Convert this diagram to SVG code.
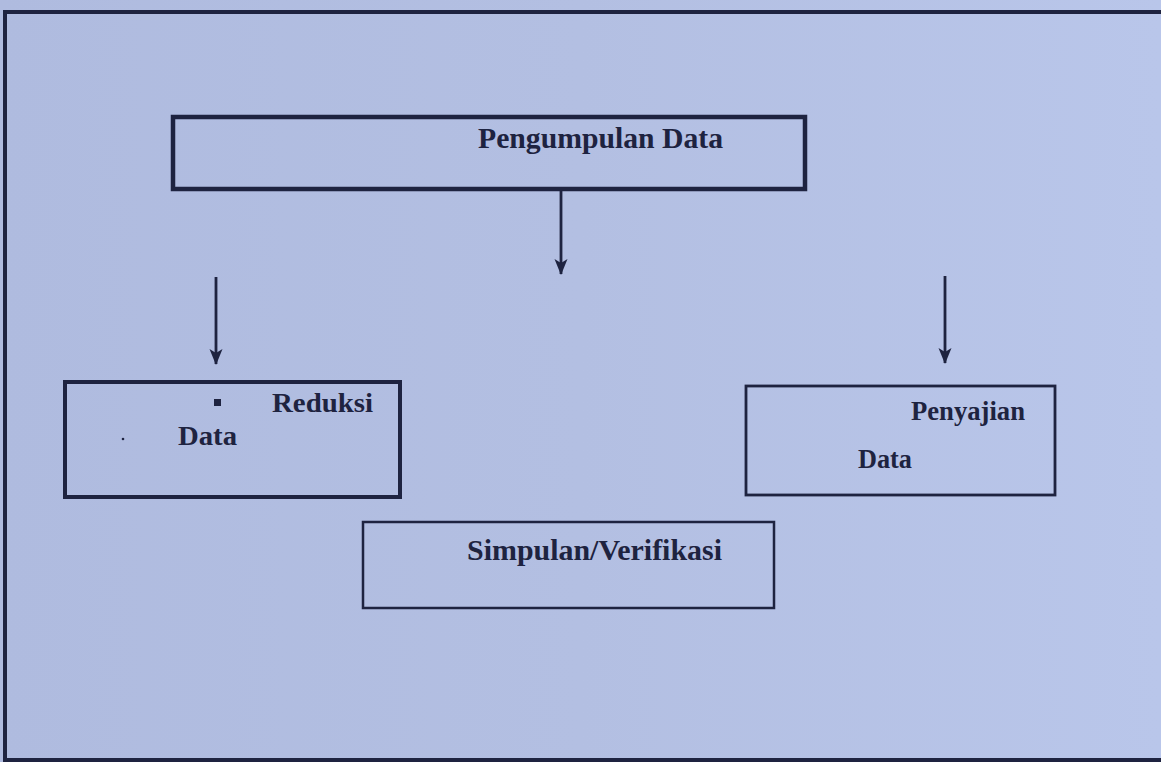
<svg xmlns="http://www.w3.org/2000/svg" width="1161" height="762" viewBox="0 0 1161 762">
  <defs>
    <linearGradient id="bg" x1="0" y1="0" x2="1" y2="0">
      <stop offset="0" stop-color="#afbbdf"/>
      <stop offset="0.5" stop-color="#b3bfe2"/>
      <stop offset="1" stop-color="#b9c6ea"/>
    </linearGradient>
    <marker id="arr" viewBox="0 0 16 14" refX="15" refY="7" markerWidth="16" markerHeight="14" orient="auto" markerUnits="userSpaceOnUse">
      <path d="M0,0.5 L16,7 L0,13.5 L4,7 Z" fill="#1e2340"/>
    </marker>
    <style>
      .frame { fill: none; stroke: #1e2340; }
      .box { fill: none; stroke: #1e2340; }
      .lbl { font-family: "Liberation Serif", "Times New Roman", serif; font-weight: bold; fill: #1e2340; }
      .conn { stroke: #1e2340; stroke-width: 2.8; fill: none; marker-end: url(#arr); }
    </style>
  </defs>
  <rect x="0" y="0" width="1161" height="762" fill="url(#bg)"/>
  <path class="frame" d="M1161,760 L5,760 L5,12 L1161,12" stroke-width="4"/>

  <g id="pengumpulan">
    <rect class="box" x="173" y="117" width="632" height="72" stroke-width="4.5"/>
    <text class="lbl" x="478" y="148" font-size="29.5" textLength="245" lengthAdjust="spacingAndGlyphs">Pengumpulan Data</text>
  </g>

  <g id="reduksi">
    <rect class="box" x="65" y="382" width="335" height="115" stroke-width="4"/>
    <rect x="214" y="399" width="7" height="7" fill="#1e2340"/>
    <text class="lbl" x="272" y="412" font-size="28" textLength="101" lengthAdjust="spacingAndGlyphs">Reduksi</text>
    <circle cx="123" cy="439" r="1.3" fill="#1e2340"/>
    <text class="lbl" x="178" y="445" font-size="28" textLength="59" lengthAdjust="spacingAndGlyphs">Data</text>
  </g>

  <g id="penyajian">
    <rect class="box" x="746" y="386" width="309" height="109" stroke-width="2.8"/>
    <text class="lbl" x="911" y="420" font-size="27" textLength="114" lengthAdjust="spacingAndGlyphs">Penyajian</text>
    <text class="lbl" x="858" y="468" font-size="27" textLength="54" lengthAdjust="spacingAndGlyphs">Data</text>
  </g>

  <g id="simpulan">
    <rect class="box" x="363" y="522" width="411" height="86" stroke-width="2.5"/>
    <text class="lbl" x="467" y="560" font-size="29" textLength="255" lengthAdjust="spacingAndGlyphs">Simpulan/Verifikasi</text>
  </g>

  <g id="connectors">
    <line class="conn" x1="561" y1="191" x2="561" y2="274"/>
    <line class="conn" x1="216" y1="277" x2="216" y2="364"/>
    <line class="conn" x1="945" y1="276" x2="945" y2="363"/>
  </g>
</svg>
